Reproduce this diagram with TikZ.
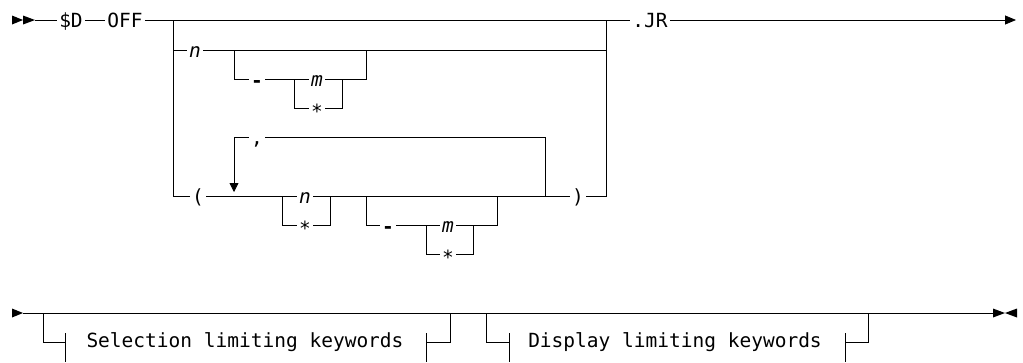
\documentclass[tikz,border=0pt]{standalone}
\usepackage{fontspec}
\newfontfamily\railfont{DejaVu Sans Mono}
\usetikzlibrary{arrows.meta}

\begin{document}
\begin{tikzpicture}[
  x=1pt, y=-1pt,
  tok/.style={font=\railfont\fontsize{19.5}{22}\selectfont, inner xsep=2pt, inner ysep=0pt,
    text height=14pt, text depth=0pt},
  var/.style={tok, font=\railfont\fontsize{19.5}{22}\selectfont\itshape},
  rail/.style={line width=0.8pt, draw=black},
  back/.style={rail, -{Triangle[length=9pt,width=9pt]}},
  stop/.style={rail, -{Triangle[length=11pt,width=9pt]}}
]
\useasboundingbox (0,0) rectangle (1023,362);

% top row
\fill[black] (12,15.5) -- (23,20) -- (12,24.5) -- cycle;
\fill[black] (23,15.5) -- (35,20) -- (23,24.5) -- cycle;
\coordinate (s0) at (35,20);
\node[tok] (dd) at (71,20) {\$D};
\node[tok] (off) at (125,20) {OFF};
\coordinate (ja) at (173,20);
\coordinate (jb) at (606,20);
\node[tok] (jr) at (650,20) {.JR};
\coordinate (e1) at (1016,20);

\draw[rail] (s0) -- (dd.west);
\draw[rail] (dd.east) -- (off.west);
\draw[rail] (off.east) -- (jr.west);
\draw[stop] (jr.east) -- (e1);

% n [- m|*]
\node[var] (n1) at (195,50) {n};
\coordinate (oa) at (234,50);
\coordinate (ob) at (366,50);
\node[tok] (h1) at (257,79) {\raisebox{-1.5pt}{\bfseries -}};
\coordinate (ma) at (294,79);
\coordinate (mb) at (342,79);
\node[var] (m1) at (317,79) {m};
\node[tok] (s1) at (317,108) {\raisebox{-3.5pt}{*}};

\draw[rail] (ja) |- (n1.west);
\draw[rail] (n1.east) -| (jb);
\draw[rail] (oa) |- (h1.west);
\draw[rail] (h1.east) -- (m1.west);
\draw[rail] (m1.east) -| (ob);
\draw[rail] (ma) |- (s1.west);
\draw[rail] (s1.east) -| (mb);

% ( n|* [- m|*] , ... )
\node[tok] (cm) at (257,137) {,};
\coordinate (lt) at (234,192);
\coordinate (rj) at (545,196);
\node[tok] (lp) at (198,196) {(};
\node[tok] (rp) at (578,196) {)};
\node[var] (n2) at (305,196) {n};
\node[tok] (s2) at (305,225) {\raisebox{-3.5pt}{*}};
\coordinate (na) at (282,196);
\coordinate (nb) at (330,196);
\coordinate (da) at (366,196);
\coordinate (db) at (497,196);
\node[tok] (h2) at (388,225) {\raisebox{-1.5pt}{\bfseries -}};
\node[var] (m2) at (448,225) {m};
\node[tok] (s3) at (448,254) {\raisebox{-3.5pt}{*}};
\coordinate (mc) at (426,225);
\coordinate (md) at (473,225);

\draw[rail] (ja) |- (lp.west);
\draw[rail] (lp.east) -- (n2.west);
\draw[rail] (n2.east) -- (rp.west);
\draw[rail] (rp.east) -| (jb);
\draw[rail] (na) |- (s2.west);
\draw[rail] (s2.east) -| (nb);
\draw[rail] (da) |- (h2.west);
\draw[rail] (h2.east) -- (m2.west);
\draw[rail] (m2.east) -| (db);
\draw[rail] (mc) |- (s3.west);
\draw[rail] (s3.east) -| (md);
\draw[back] (cm.west) -| (lt);
\draw[rail] (cm.east) -| (rj);

% bottom row
\fill[black] (12,308.5) -- (23,313) -- (12,317.5) -- cycle;
\fill[black] (993,308.5) -- (1005,313) -- (993,317.5) -- cycle;
\fill[black] (1017,308.5) -- (1005,313) -- (1017,317.5) -- cycle;
\coordinate (b0) at (23,313);
\coordinate (b1) at (993,313);
\draw[rail] (b0) -- (b1);

\node[tok] (sel) at (245,340) {Selection limiting keywords};
\node[tok] (disp) at (675,340) {Display limiting keywords};
\coordinate (sa) at (43,313);
\coordinate (sb) at (65,342);
\coordinate (sc) at (426,342);
\coordinate (sd) at (450,313);
\coordinate (da1) at (486,313);
\coordinate (da2) at (509,342);
\coordinate (da3) at (845,342);
\coordinate (da4) at (868,313);

\draw[rail] (sa) |- (sb);
\draw[rail] ([yshift=9pt]sb) -- ([yshift=-20pt]sb);
\draw[rail] (sc) -| (sd);
\draw[rail] ([yshift=9pt]sc) -- ([yshift=-20pt]sc);
\draw[rail] (da1) |- (da2);
\draw[rail] ([yshift=9pt]da2) -- ([yshift=-20pt]da2);
\draw[rail] (da3) -| (da4);
\draw[rail] ([yshift=9pt]da3) -- ([yshift=-20pt]da3);

\end{tikzpicture}
\end{document}
